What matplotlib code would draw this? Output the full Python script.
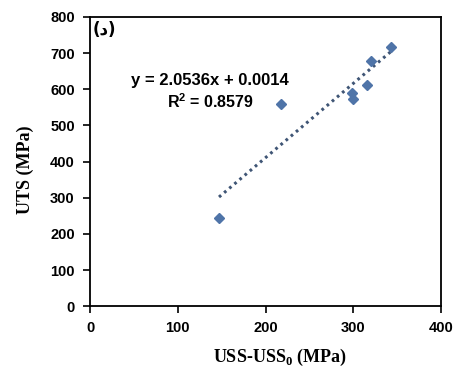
import matplotlib.pyplot as plt
import numpy as np

# data
uss = [147, 218, 299, 300, 316, 320, 343]
uts = [245, 558, 589, 573, 612, 679, 716]
slope = 2.0536
intercept = 0.0014
xticks = [0, 100, 200, 300, 400]
yticks = [0, 100, 200, 300, 400, 500, 600, 700, 800]

fig = plt.figure(figsize=(4.57, 3.68), dpi=100)
ax = fig.add_axes([0.197, 0.168, 0.768, 0.786])

ax.plot(uss, uts, "D", color="#4f74a8", ms=5.5, zorder=3)
xf = np.array([min(uss), max(uss)])
ax.plot(xf, slope*xf + intercept, ":", color="#3f5575", lw=2.2, dashes=(0.9, 1.3))

ax.set_xlim([0, 400])
ax.set_ylim([0, 800])
ax.set_xticks(xticks)
ax.set_yticks(yticks)
for lab in ax.get_xticklabels() + ax.get_yticklabels():
    lab.set_fontweight("bold")
    lab.set_fontsize(10.5)
    lab.set_family("Liberation Sans")
ax.tick_params(direction="out", length=5, width=1.2, pad=6)
for s in ax.spines.values():
    s.set_linewidth(1.3)

ax.set_xlabel(r"USS-USS$_\mathregular{0}$ (MPa)", family="Liberation Serif",
              fontweight="bold", fontsize=13)
ax.xaxis.set_label_coords(0.54, -0.142)
ax.set_ylabel("UTS (MPa)", family="Liberation Serif",
              fontweight="bold", fontsize=13)
ax.yaxis.set_label_coords(-0.16, 0.47)

ax.text(137, 623, "y = 2.0536x + 0.0014", ha="center", va="center",
        fontsize=12, fontweight="bold", family="Liberation Sans")
ax.text(137, 565, "R$^\\mathregular{2}$ = 0.8579", ha="center", va="center",
        fontsize=11.5, fontweight="bold", family="Liberation Sans")
ax.text(3, 765, "(د)", ha="left", va="center", fontsize=12, fontweight="bold")

fig.savefig("out.png", dpi=100)
